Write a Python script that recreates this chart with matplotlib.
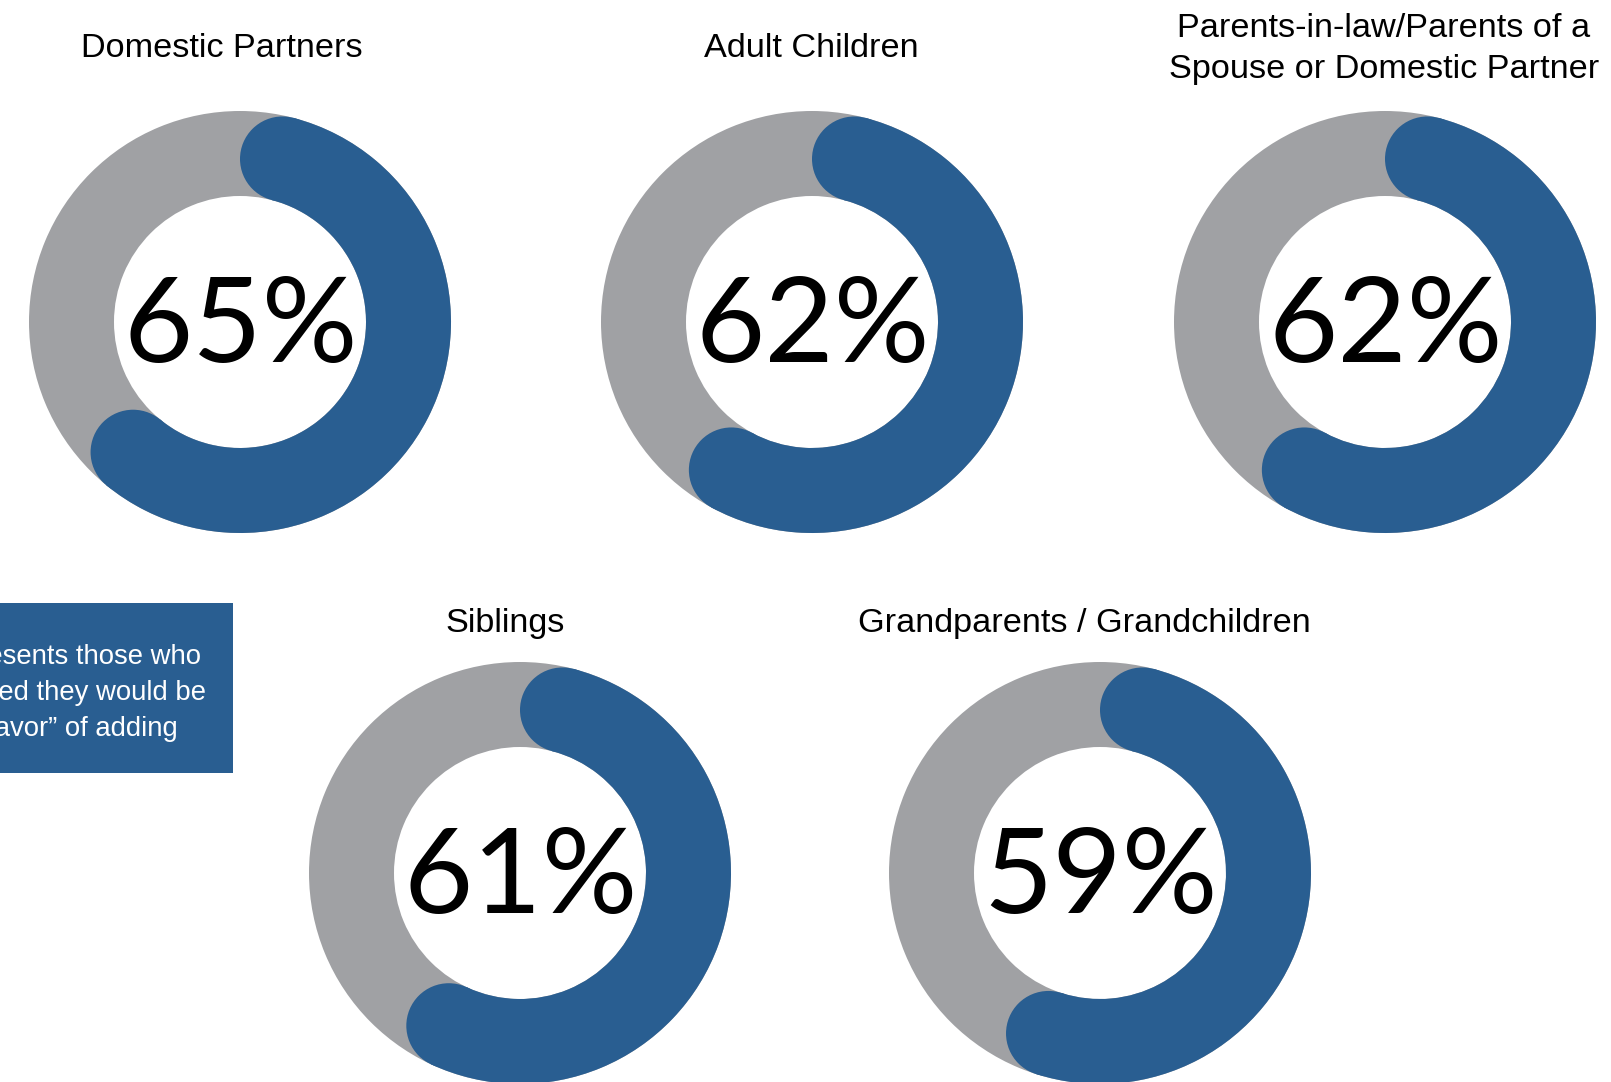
import numpy as np
import matplotlib.pyplot as plt
from matplotlib.patches import Wedge, Circle, Rectangle

# dados
categorias = [
    "Domestic Partners",
    "Adult Children",
    "Parents-in-law/Parents of a\nSpouse or Domestic Partner",
    "Siblings",
    "Grandparents / Grandchildren",
]
percentuais = [65, 62, 62, 61, 59]
nota_linhas = [
    "This represents those who",
    "indicated they would be",
    "\u201cin favor\u201d of adding",
]

AZUL = '#295E91'
CINZA = '#A0A1A4'
W, H = 1611, 1082

# layout em pixels (y a partir do topo)
centros = [(240, 322), (812, 322), (1385, 322), (520, 873), (1100, 873)]
titulos_xy = [(222, 57), (811, 57), (1384, 78), (505, 632), (1084, 632)]
R_EXT, R_INT = 211, 126


def desenhar_rosca(ax, cx, cy, valor):
    yc = H - cy
    largura = R_EXT - R_INT
    ax.add_patch(Wedge((cx, yc), R_EXT, 0, 360, width=largura,
                       facecolor=CINZA, edgecolor='none'))
    meio = (R_EXT + R_INT) / 2
    meia = largura / 2
    cap = np.degrees(np.arcsin(meia / meio))
    fim = valor / 100 * 360
    a1 = 90 - cap
    a2 = 90 - (fim - cap)
    ax.add_patch(Wedge((cx, yc), R_EXT, a2, a1, width=largura,
                       facecolor=AZUL, edgecolor='none'))
    for a in (a1, a2):
        t = np.radians(a)
        ax.add_patch(Circle((cx + meio * np.cos(t), yc + meio * np.sin(t)), meia,
                            facecolor=AZUL, edgecolor='none'))
    ax.text(cx + 1, yc - 40, f"{valor}%", ha='center', va='baseline',
            fontsize=86, family='Lato', color='black')


fig = plt.figure(figsize=(W / 100, H / 100), dpi=100)
ax = fig.add_axes([0, 0, 1, 1])
ax.set_xlim(0, W)
ax.set_ylim(0, H)
ax.axis('off')

for (cx, cy), valor in zip(centros, percentuais):
    desenhar_rosca(ax, cx, cy, valor)

for (tx, ty), nome in zip(titulos_xy, categorias):
    ax.text(tx, H - ty, nome, ha='center', va='baseline', fontsize=24.7,
            family='Liberation Sans', color='black', linespacing=1.42,
            multialignment='center')

# caixa de nota (cortada na borda esquerda)
ax.add_patch(Rectangle((0, H - 773), 233, 170, facecolor=AZUL, edgecolor='none'))
for linha, xr, yb in zip(nota_linhas, [201, 206, 178], [664, 700, 736]):
    ax.text(xr, H - yb, linha, ha='right', va='baseline', fontsize=19.8,
            family='Liberation Sans', color='white')

fig.savefig('out.png', dpi=100)
